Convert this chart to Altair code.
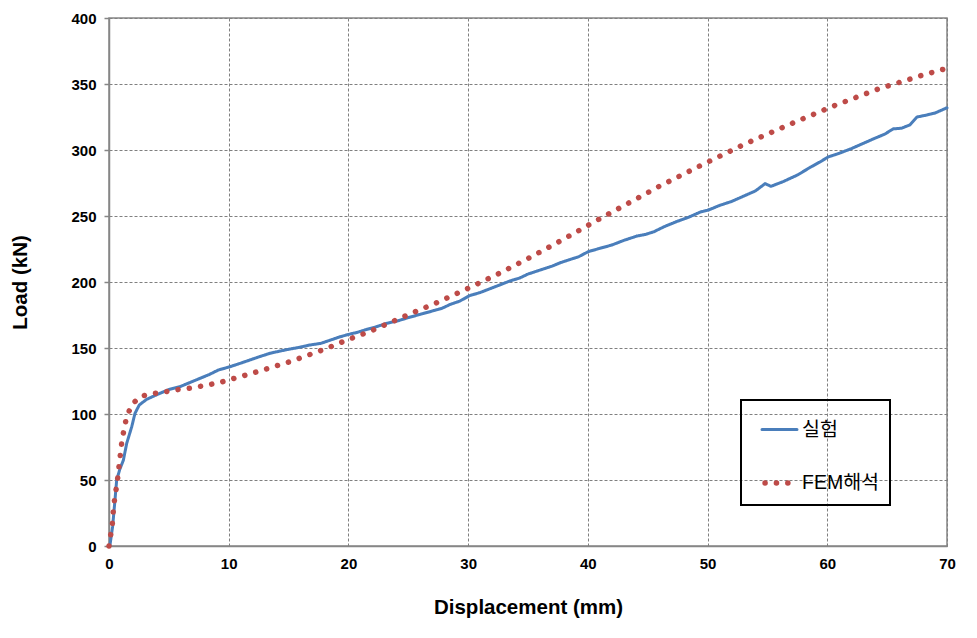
import altair as alt
import pandas as pd

exp_d = [0, 0.08, 0.3, 0.5, 0.64, 0.9, 1.2, 1.48, 1.9, 2.17, 2.53, 3.14, 4.26, 5.0, 5.93, 6.8, 7.6, 8.4, 9.13,
         10.1, 11.0, 11.8, 12.6, 13.45, 14.2, 15.0, 15.9, 16.8, 17.7, 18.5, 19.3, 20.07, 20.8, 21.5, 22.3, 23.2,
         24.1, 25.0, 26.0, 27.0, 27.8, 28.5, 29.3, 30.1, 31.0, 32.0, 33.5, 34.3, 35.0, 36.0, 37.0, 37.7, 38.5,
         39.2, 40.04, 41.0, 42.0, 43.0, 44.1, 44.8, 45.5, 46.4, 47.4, 48.4, 49.4, 50.07, 51.0, 52.0, 53.0, 54.0,
         54.8, 55.3, 56.3, 57.5, 58.6, 59.4, 60.07, 61.0, 62.0, 63.0, 64.0, 64.8, 65.5, 66.2, 66.9, 67.5, 68.3,
         69.0, 70.0]
exp_load = [0, 0.7, 14.6, 34.8, 50, 58, 65, 77.8, 90.4, 100.5, 106.8, 111.1, 115.7, 118.5, 120.7, 124, 127, 130, 133.3,
            135.8, 138.5, 141, 143.5, 146, 147.5, 149, 150.5, 152.3, 153.5, 156, 158.5, 160.4, 162, 164, 166, 168.7,
            170.5, 173, 175.5, 178, 180, 183, 185.5, 189.6, 192, 195.5, 200.8, 203, 206, 209, 212, 214.6, 217,
            219, 223, 225.5, 228, 231.5, 234.8, 236, 238, 242, 245.7, 249, 253, 254.5, 258, 261, 265, 269,
            274.5, 272.5, 276, 281, 287, 291, 294.7, 297.5, 301, 305, 309, 312, 316, 316.5, 319, 325, 326.5,
            328, 332]

# FEM analysis (FEM해석)
fem_d = [0, 0.14, 0.28, 0.36, 0.47, 0.61, 0.75, 0.86, 0.98, 1.09, 1.28, 1.48, 1.9, 2.53, 3.5, 4.5, 5.5, 6.5,
         7.5, 8.5, 9.5, 12.3, 15.2, 18.05, 19.86, 21.75, 23.6, 25.4, 27.3, 30.0, 32.7, 35.4, 38.0, 40.66, 43.3,
         45.9, 49.5, 53.1, 56.8, 60.5, 64.25, 68.06, 70.0]
fem_load = [0, 8.3, 17, 26.5, 35.6, 44, 53, 62.6, 71.5, 80.3, 89.4, 98, 106.8, 112.9, 115.4, 116.4, 118.2, 119.2,
            120.7, 122.5, 124.5, 131.8, 139.9, 149.2, 156, 162.4, 169.7, 176.8, 184, 195.2, 207, 219.7, 232.6, 246.2,
            259.3, 272.2, 288.6, 304.5, 319.2, 333.3, 346.2, 357, 361.9]

series_names = ["실험", "FEM해석"]
x_ticks = [0, 10, 20, 30, 40, 50, 60, 70]
y_ticks = [0, 50, 100, 150, 200, 250, 300, 350, 400]

rows = []
for i, (d, l) in enumerate(zip(exp_d, exp_load)):
    rows.append({"series": series_names[0], "disp": d, "load": l, "order": i})
for i, (d, l) in enumerate(zip(fem_d, fem_load)):
    rows.append({"series": series_names[1], "disp": d, "load": l, "order": i})
df = pd.DataFrame(rows)

FONT = "Liberation Sans, Arial, Noto Sans CJK KR"
LEGEND_FONT = "Liberation Sans, Arial, Noto Sans CJK KR"
NBSP2 = "\u00a0\u00a0"

chart = alt.Chart(df).mark_line(strokeCap="round", strokeJoin="round").encode(
    x=alt.X("disp:Q", scale=alt.Scale(domain=[0, 70], nice=False),
            axis=alt.Axis(title="Displacement (mm)", values=x_ticks, format="d")),
    y=alt.Y("load:Q", scale=alt.Scale(domain=[0, 400], nice=False),
            axis=alt.Axis(title="Load (kN)", values=y_ticks, format="d")),
    color=alt.Color("series:N",
                    scale=alt.Scale(domain=series_names, range=["#4a7ebb", "#be4b48"]),
                    legend=alt.Legend(
                        title=None, orient="none", legendX=632, legendY=382,
                        symbolType="stroke", symbolSize=1225,
                        labelFont=LEGEND_FONT, labelFontSize=19.5, labelColor="#000000",
                        padding=10.5, symbolOffset=7.5, rowPadding=23, labelOffset=2,
                        strokeColor="#000000")),
    strokeDash=alt.StrokeDash("series:N",
                              scale=alt.Scale(domain=series_names, range=[[1, 0], [0.1, 11.3]]),
                              legend=alt.Legend(title=None)),
    strokeWidth=alt.StrokeWidth("series:N",
                                scale=alt.Scale(domain=series_names, range=[3, 5.5]),
                                legend=alt.Legend(title=None)),
    order="order:Q",
).properties(
    width=838, height=528,
    autosize=alt.AutoSizeParams(type="none"),
    padding={"left": 101, "top": 10, "right": 20, "bottom": 82},
).configure_view(
    stroke="#868686", strokeWidth=1.5
).configure_axis(
    labelFont=FONT, labelFontSize=15, labelFontWeight="bold", labelColor="#000000",
    titleFont=FONT, titleFontSize=20.5, titleFontWeight="bold", titleColor="#000000",
    domainColor="#868686", domainWidth=1.5,
    gridColor="#808080", gridDash=[3, 2], gridWidth=1,
).configure_axisX(
    tickSize=0, labelPadding=10, titlePadding=26, labelFlush=False,
).configure_axisY(
    tickSize=5, tickColor="#868686", tickWidth=1.5, labelPadding=8, titlePadding=40,
)

legend_patch = [{
    "op": "add",
    "path": "/legends/0/encode",
    "value": {
        "symbols": {"update": {"strokeCap": {"value": "round"},
                               "strokeDashOffset": {"value": -3},
                               "fill": {"value": "transparent"},
                               "opacity": {"value": 1}}},
        "labels": {"update": {"text": {"signal": "datum.label + '" + NBSP2 + "'"}}},
        "legend": {"update": {"strokeWidth": {"value": 2}}},
    },
}]

chart.save("out.html", embed_options={"renderer": "svg", "actions": False, "patch": legend_patch})
